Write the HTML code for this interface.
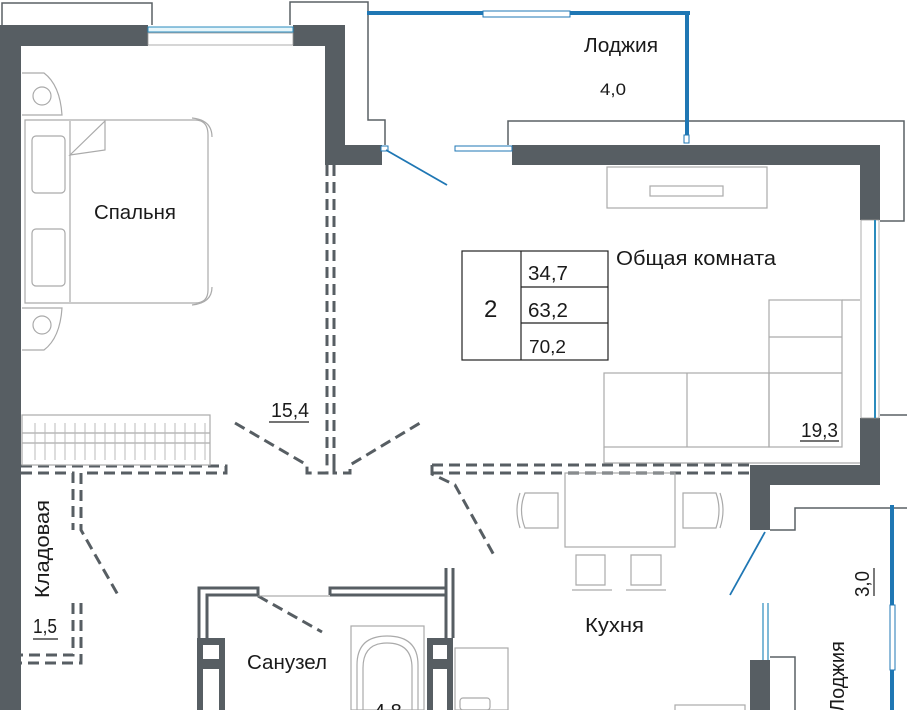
<!DOCTYPE html>
<html><head><meta charset="utf-8"><style>
html,body{margin:0;padding:0;background:#fff;}
svg{display:block}
text{font-family:"Liberation Sans",sans-serif;fill:#1a1a1a;}
</style></head><body>
<svg width="907" height="710" viewBox="0 0 907 710" xmlns="http://www.w3.org/2000/svg">
<g fill="none" stroke="#5a6065" stroke-width="1.5">
 <path d="M2 25 V3 H152 V25"/>
 <path d="M290 25 V2 H368 V120 H385 V145"/>
 <path d="M508 145 V121 H904 V221 H880"/>
 <path d="M880 415 H907"/>
 <path d="M770 530 H795 V508 H907"/>
 <path d="M770 657 H795 V710"/>
</g>
<g fill="#575e63">
 <rect x="0" y="25" width="21" height="685"/>
 <rect x="0" y="25" width="148" height="21"/>
 <rect x="293" y="25" width="52" height="21"/>
 <rect x="325" y="25" width="20" height="140"/>
 <rect x="325" y="145" width="57" height="20"/>
 <rect x="512" y="145" width="368" height="20"/>
 <rect x="860" y="145" width="20" height="75"/>
 <rect x="860" y="418" width="20" height="67"/>
 <rect x="750" y="465" width="130" height="20"/>
 <rect x="750" y="465" width="20" height="65"/>
 <rect x="750" y="660" width="20" height="50"/>
 <rect x="197" y="638" width="28" height="72"/>
 <rect x="427" y="638" width="26" height="72"/>
</g>
<g fill="#fff"><rect x="203" y="645" width="16" height="14"/><rect x="203" y="669" width="16" height="41"/><rect x="433" y="645" width="14" height="14"/><rect x="433" y="669" width="14" height="41"/></g>
<rect x="148" y="27" width="145" height="5" fill="#e6f6fb" stroke="#2a8bbd" stroke-width="1"/>
<rect x="148" y="33" width="145" height="12" fill="#fff" stroke="#999" stroke-width="0.8"/>
<rect x="861" y="220" width="18" height="198" fill="#fff" stroke="#999" stroke-width="0.8"/>
<line x1="875" y1="220" x2="875" y2="418" stroke="#2a8bbd" stroke-width="2"/>
<line x1="763" y1="603" x2="763" y2="660" stroke="#2a8bbd" stroke-width="1.2"/>
<line x1="768" y1="603" x2="768" y2="660" stroke="#2a8bbd" stroke-width="1.2"/>
<g stroke="#1f77b4">
 <line x1="367" y1="13" x2="690" y2="13" stroke-width="4"/>
 <line x1="687" y1="11" x2="687" y2="138" stroke-width="4"/>
 <line x1="892" y1="505" x2="892" y2="710" stroke-width="4"/>
</g>
<rect x="483" y="11" width="87" height="6" fill="#fff" stroke="#1f77b4" stroke-width="1"/>
<rect x="890" y="605" width="5" height="65" fill="#fff" stroke="#1f77b4" stroke-width="1"/>
<rect x="684" y="135" width="5" height="8" fill="#fff" stroke="#1f77b4"/>
<rect x="455" y="146" width="57" height="5" fill="#fff" stroke="#1f77b4"/>
<rect x="381" y="146" width="7" height="5" fill="#fff" stroke="#1f77b4"/>
<g stroke="#1f77b4" stroke-width="1.8">
 <line x1="386" y1="150" x2="447" y2="185"/>
 <line x1="765" y1="532" x2="730" y2="595"/>
</g>
<g fill="none" stroke="#575e63" stroke-width="3" stroke-dasharray="11,6">
 <line x1="327" y1="165" x2="327" y2="465"/>
 <line x1="334" y1="165" x2="334" y2="465"/>
 <path d="M235 423 L307 465 V473 H327 V465"/>
 <path d="M334 465 V473 H350 V465 L420 423"/>
 <path d="M21 466 H226 V473 H81 V530 L118 595"/>
 <path d="M21 473 H73 V530"/>
 <path d="M73 603 V655 H21"/>
 <path d="M81 603 V663 H21"/>
 <path d="M432 465 H750"/>
 <path d="M432 473 H750"/>
 <path d="M432 465 V474 L455 485 L495 557"/>
 <line x1="258" y1="596" x2="322" y2="632"/>
</g>
<g fill="none" stroke="#575e63" stroke-width="3">
 <path d="M199 638 V588 H258 V595 H207 V638"/>
 <path d="M330 595 V588 H446 V568 M453 568 V638 M446 588 V595 H330" />
 <path d="M446 595 V638"/>
</g>
<line x1="258" y1="596" x2="330" y2="596" stroke="#999" stroke-width="1"/>
<g fill="none" stroke="#aaa" stroke-width="1.2">
 <path d="M22 73 H44 Q60 85 62 115 H22"/>
 <circle cx="42" cy="96" r="9"/>
 <path d="M22 308 H62 Q60 338 44 350 H22"/>
 <circle cx="42" cy="325" r="9"/>
 <path d="M25 120 H195 Q208 120 208 135 V290 Q208 303 195 303 H25 Z"/>
 <path d="M192 118 Q212 120 212 137 M212 287 Q212 303 192 305"/>
 <line x1="70" y1="121" x2="70" y2="302"/>
 <path d="M70 155 L105 121 V150 Z"/>
 <rect x="32" y="136" width="33" height="57" rx="4"/>
 <rect x="32" y="229" width="33" height="57" rx="4"/>
 <rect x="22" y="415" width="188" height="50"/>
 <line x1="22" y1="433" x2="210" y2="433"/>
 <line x1="22" y1="443" x2="210" y2="443"/>
 <rect x="607" y="167" width="160" height="41"/>
 <rect x="650" y="186" width="73" height="10"/>
 <rect x="604" y="373" width="165" height="74"/>
 <line x1="687" y1="373" x2="687" y2="447"/>
 <rect x="769" y="300" width="73" height="147"/>
 <line x1="769" y1="337" x2="842" y2="337"/>
 <line x1="769" y1="373" x2="842" y2="373"/>
 <path d="M604 447 V463 H860 M842 300 H860"/>
 <rect x="565" y="473" width="110" height="74"/>
 <path d="M525 493 H558 V528 H525 Q518 510 525 493 Z M520 493 Q514 510 520 528"/>
 <path d="M683 493 H716 Q722 510 716 528 H683 Z M720 493 Q726 510 720 528"/>
 <path d="M576 555 H605 V585 H576 Z M572 590 H612"/>
 <path d="M631 555 H661 V585 H631 Z M626 590 H666"/>
 <rect x="351" y="626" width="73" height="84"/>
 <path d="M357 710 V665 Q357 636 387 636 Q418 636 418 665 V710"/>
 <path d="M363 710 V668 Q363 643 387 643 Q412 643 412 668 V710"/>
 <rect x="455" y="648" width="53" height="62"/>
 <rect x="460" y="698" width="30" height="12" rx="3"/>
 <rect x="675" y="705" width="70" height="6"/>
</g>
<g stroke="#bbb" stroke-width="1">
 <path d="M35 423 V460 M45 423 V460 M55 423 V460 M65 423 V460 M75 423 V460 M85 423 V460 M95 423 V460 M105 423 V460 M115 423 V460 M125 423 V460 M135 423 V460 M145 423 V460 M155 423 V460 M165 423 V460 M175 423 V460 M185 423 V460 M195 423 V460 M205 423 V460"/>
</g>
<g fill="none" stroke="#222" stroke-width="1.2">
 <rect x="462" y="251" width="146" height="109"/>
 <line x1="521" y1="251" x2="521" y2="360"/>
 <line x1="521" y1="287" x2="608" y2="287"/>
 <line x1="521" y1="323" x2="608" y2="323"/>
</g>
<g font-size="20">
 <text x="94" y="219" textLength="82" lengthAdjust="spacingAndGlyphs">Спальня</text>
 <text x="584" y="52" textLength="74" lengthAdjust="spacingAndGlyphs">Лоджия</text>
 <text x="600" y="95" font-size="17" textLength="26" lengthAdjust="spacingAndGlyphs">4,0</text>
 <text x="616" y="265" textLength="160" lengthAdjust="spacingAndGlyphs">Общая комната</text>
 <text x="484" y="317" font-size="24">2</text>
 <text x="528" y="280" textLength="40" lengthAdjust="spacingAndGlyphs">34,7</text>
 <text x="528" y="317" textLength="40" lengthAdjust="spacingAndGlyphs">63,2</text>
 <text x="529" y="353" font-size="18" textLength="37" lengthAdjust="spacingAndGlyphs">70,2</text>
 <text x="271" y="417" textLength="38" lengthAdjust="spacingAndGlyphs">15,4</text>
 <text x="801" y="437" textLength="37" lengthAdjust="spacingAndGlyphs">19,3</text>
 <text x="585" y="632" textLength="59" lengthAdjust="spacingAndGlyphs">Кухня</text>
 <text x="247" y="669" textLength="80" lengthAdjust="spacingAndGlyphs">Санузел</text>
 <text x="33" y="633" textLength="24" lengthAdjust="spacingAndGlyphs">1,5</text>
 <text x="374" y="718">4,8</text>
 <text transform="translate(49,598) rotate(-90)" textLength="98" lengthAdjust="spacingAndGlyphs">Кладовая</text>
 <text transform="translate(869,597) rotate(-90)" textLength="26" lengthAdjust="spacingAndGlyphs">3,0</text>
 <text transform="translate(844,712) rotate(-90)">Лоджия</text>
</g>
<g stroke="#222" stroke-width="1.2">
 <line x1="269" y1="422" x2="309" y2="422"/>
 <line x1="800" y1="441" x2="839" y2="441"/>
 <line x1="33" y1="639" x2="58" y2="639"/>
 <line x1="874" y1="568" x2="874" y2="596"/>
</g>
</svg>
</body></html>
